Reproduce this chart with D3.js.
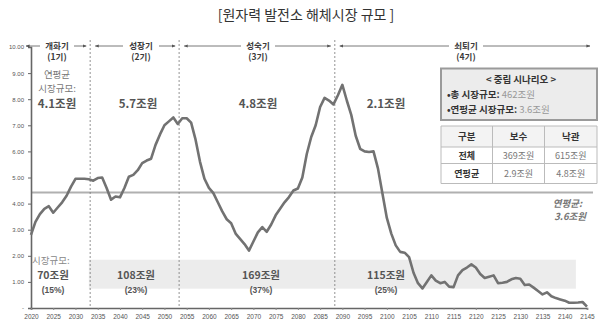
<!DOCTYPE html>
<html><head><meta charset="utf-8">
<script src="https://cdn.jsdelivr.net/npm/d3@7"></script>
<style>
body{margin:0;background:#fff;}
svg{display:block;}
text{font-family:"Liberation Sans","Noto Sans CJK KR",sans-serif;}
.kr{font-family:"Noto Sans CJK KR","Liberation Sans",sans-serif;}
</style></head>
<body>
<script>
const title = "[원자력 발전소 해체시장 규모 ]";
const years = d3.range(2020, 2146);
const values = [
 2.8,3.3,3.6,3.8,3.9,3.65,3.85,4.05,4.3,4.65,
 4.95,4.95,4.95,4.93,4.88,4.98,5.0,4.6,4.15,4.27,
 4.24,4.6,5.03,5.1,5.28,5.55,5.65,5.72,6.25,6.65,
 7.0,7.15,7.3,7.05,7.27,7.27,7.1,6.45,5.6,4.95,
 4.6,4.4,4.05,3.7,3.4,3.25,2.85,2.65,2.45,2.2,
 2.55,2.9,3.1,2.92,3.2,3.55,3.8,4.05,4.25,4.5,
 4.58,5.0,5.9,6.55,7.0,7.7,8.05,7.95,7.8,8.15,
 8.55,7.95,7.4,6.6,6.1,6.0,5.98,6.0,5.35,4.4,
 3.45,2.85,2.4,2.15,2.12,1.95,1.35,0.95,0.75,1.0,
 1.25,1.05,0.95,1.0,0.82,0.8,1.25,1.45,1.55,1.67,
 1.55,1.3,1.15,1.2,1.25,0.95,0.97,1.0,1.1,1.15,
 1.12,0.88,0.9,0.78,0.65,0.52,0.6,0.45,0.38,0.33,
 0.28,0.2,0.2,0.21,0.23,0.05
];
const yTicks = [0,1,2,3,4,5,6,7,8,9,10];
const yTickLabels = ["-","1.00","2.00","3.00","4.00","5.00","6.00","7.00","8.00","9.00","10.00"];
const xTicks = d3.range(2020, 2146, 5);
const averageLine = 4.43;
const periodBounds = [2020, 2033.3, 2053.3, 2088.3, 2145];
const periodNames = ["개화기","성장기","성숙기","쇠퇴기"];
const periodSubs = ["(1기)","(2기)","(3기)","(4기)"];
const annualAvg = ["4.1조원","5.7조원","4.8조원","2.1조원"];
const marketSize = ["70조원","108조원","169조원","115조원"];
const marketShare = ["(15%)","(23%)","(37%)","(25%)"];
const bandRange = [0.74, 1.85];
const bandYears = [2033, 2142.5];
const scenarioTitle = "< 중립 시나리오 >";
const scenarioRows = [["•총 시장규모: ","462조원"],["•연평균 시장규모: ","3.6조원"]];
const tableHeader = ["구분","보수","낙관"];
const tableRows = [["전체","369조원","615조원"],["연평균","2.9조원","4.8조원"]];

const W = 616, H = 329;
const svg = d3.select("body").append("svg").attr("width", W).attr("height", H);
const x = d3.scaleLinear().domain([2020, 2145]).range([31, 587]);
const y = d3.scaleLinear().domain([0, 10]).range([308, 47]);

// title
svg.append("text").attr("class","kr").attr("x", 306).attr("y", 20).attr("text-anchor","middle")
  .attr("font-size", 14).attr("fill","#333").text(title);

// band
svg.append("rect").attr("x", x(bandYears[0])).attr("width", x(bandYears[1]) - x(bandYears[0]))
  .attr("y", y(bandRange[1])).attr("height", y(bandRange[0]) - y(bandRange[1])).attr("fill", "#ececec");

// average line
svg.append("line").attr("x1", x(2020)).attr("x2", 593).attr("y1", y(averageLine)).attr("y2", y(averageLine))
  .attr("stroke", "#b0b0b0").attr("stroke-width", 2);

// dashed period lines
periodBounds.slice(1, 4).forEach(b => {
  svg.append("line").attr("x1", x(b)).attr("x2", x(b)).attr("y1", 40).attr("y2", y(0))
    .attr("stroke", "#777").attr("stroke-width", 0.8).attr("stroke-dasharray", "2,2");
});

// axes
const yAxis = d3.axisLeft(y).tickValues(yTicks).tickFormat((d,i) => yTickLabels[i]).tickSize(3).tickPadding(4);
const gy = svg.append("g").attr("transform", `translate(${x(2020)},0)`).call(yAxis);
gy.selectAll("text").attr("font-size", 6).attr("fill", "#555");
gy.select(".domain").attr("stroke", "#666").attr("stroke-width", 1.6);
gy.selectAll(".tick line").attr("stroke", "#666");

const xAxis = d3.axisBottom(x).tickValues(xTicks).tickFormat(d3.format("d")).tickSize(2).tickPadding(4);
const gx = svg.append("g").attr("transform", `translate(0,${y(0)})`).call(xAxis);
gx.selectAll("text").attr("font-size", 6.5).attr("fill", "#555");
gx.select(".domain").attr("stroke", "#666").attr("stroke-width", 1.6);
gx.selectAll(".tick line").attr("stroke", "#888");

// line
const line = d3.line().x((d,i) => x(years[i])).y(d => y(d));
svg.append("path").datum(values).attr("d", line).attr("fill","none")
  .attr("stroke", "#727272").attr("stroke-width", 2.6).attr("stroke-linejoin","round");

// arrow marker
const defs = svg.append("defs");
defs.append("marker").attr("id","ah").attr("viewBox","0 0 10 10").attr("refX",9).attr("refY",5)
  .attr("markerWidth",5).attr("markerHeight",5).attr("orient","auto-start-reverse")
  .append("path").attr("d","M0,1 L10,5 L0,9 Z").attr("fill","#555");

// period headers
const labelCenters = [57, 141, 258, 466];
const labelHalf = [17, 18, 17, 17];
periodNames.forEach((n, i) => {
  const x0 = i === 0 ? 26 : x(periodBounds[i]) + 5;
  const x1 = i === 3 ? 590 : x(periodBounds[i+1]) - 4;
  const c = labelCenters[i];
  svg.append("text").attr("class","kr").attr("x", c).attr("y", 49).attr("text-anchor","middle")
    .attr("font-size", 8.5).attr("font-weight","bold").attr("fill","#3a3a3a").text(n);
  svg.append("text").attr("class","kr").attr("x", c).attr("y", 60).attr("text-anchor","middle")
    .attr("font-size", 8.5).attr("font-weight","bold").attr("fill","#3a3a3a").text(periodSubs[i]);
  svg.append("line").attr("x1", c - labelHalf[i]).attr("x2", x0).attr("y1", 46).attr("y2", 46)
    .attr("stroke","#555").attr("stroke-width",0.8).attr("marker-end","url(#ah)");
  svg.append("line").attr("x1", c + labelHalf[i]).attr("x2", x1).attr("y1", 46).attr("y2", 46)
    .attr("stroke","#555").attr("stroke-width",0.8).attr("marker-end","url(#ah)");
});

// annual avg annotations
const annX = [57, 138, 258, 386];
svg.append("text").attr("class","kr").attr("x", 57).attr("y", 77.5).attr("text-anchor","middle")
  .attr("font-size", 9.5).attr("fill","#777").text("연평균");
svg.append("text").attr("class","kr").attr("x", 57).attr("y", 91.5).attr("text-anchor","middle")
  .attr("font-size", 9.5).attr("fill","#777").text("시장규모:");
annualAvg.forEach((t, i) => {
  svg.append("text").attr("class","kr").attr("x", annX[i]).attr("y", 108).attr("text-anchor","middle")
    .attr("font-size", 11.5).attr("font-weight","bold").attr("fill","#555").text(t);
});

// market size annotations
svg.append("text").attr("class","kr").attr("x", 32).attr("y", 263.5)
  .attr("font-size", 9.5).attr("fill","#888").text("시장규모:");
const msX = [53, 136, 261, 386];
marketSize.forEach((t, i) => {
  svg.append("text").attr("class","kr").attr("x", msX[i]).attr("y", 279).attr("text-anchor","middle")
    .attr("font-size", 10.5).attr("font-weight","bold").attr("fill","#555").text(t);
  svg.append("text").attr("x", msX[i]).attr("y", 292.5).attr("text-anchor","middle")
    .attr("font-size", 8.5).attr("font-weight","bold").attr("fill","#555").text(marketShare[i]);
});

// average label
svg.append("text").attr("class","kr").attr("x", 582).attr("y", 207).attr("text-anchor","end")
  .attr("font-size", 9.5).attr("font-style","italic").attr("font-weight","bold").attr("fill","#777").text("연평균:");
svg.append("text").attr("class","kr").attr("x", 586).attr("y", 220).attr("text-anchor","end")
  .attr("font-size", 9.5).attr("font-style","italic").attr("font-weight","bold").attr("fill","#777").text("3.6조원");

// scenario box
svg.append("rect").attr("x", 441).attr("y", 68.5).attr("width", 156).attr("height", 51.5)
  .attr("fill", "#ececec").attr("stroke", "#9a9a9a").attr("stroke-width", 2);
svg.append("text").attr("class","kr").attr("x", 521).attr("y", 83).attr("text-anchor","middle")
  .attr("font-size", 9.5).attr("font-weight","bold").attr("fill","#333").text(scenarioTitle);
scenarioRows.forEach((r, i) => {
  const t = svg.append("text").attr("class","kr").attr("x", 447).attr("y", 98 + i*15).attr("font-size", 9.5);
  t.append("tspan").attr("font-weight","bold").attr("fill","#333").text(r[0]);
  t.append("tspan").attr("fill","#999").text(r[1]);
});

// table
const colX = [441, 492.5, 544.5, 597];
const rowY = [126, 147, 163.5, 183.5];
svg.append("rect").attr("x", colX[0]).attr("y", rowY[0]).attr("width", colX[3]-colX[0]).attr("height", rowY[1]-rowY[0])
  .attr("fill", "#f3f3f3");
[tableHeader, ...tableRows].forEach((row, ri) => {
  row.forEach((cell, ci) => {
    const bold = ri === 0 || ci === 0;
    svg.append("text").attr("class","kr").attr("x", (colX[ci]+colX[ci+1])/2).attr("y", (rowY[ri]+rowY[ri+1])/2 + 3.5)
      .attr("text-anchor","middle").attr("font-size", ri === 0 ? 9.5 : 9)
      .attr("font-weight", bold ? "bold" : "normal").attr("fill", bold ? "#333" : "#777").text(cell);
  });
});
rowY.forEach(yy => svg.append("line").attr("x1", colX[0]).attr("x2", colX[3]).attr("y1", yy).attr("y2", yy)
  .attr("stroke", "#bbb").attr("stroke-width", 1));
colX.forEach(xx => svg.append("line").attr("x1", xx).attr("x2", xx).attr("y1", rowY[0]).attr("y2", rowY[3])
  .attr("stroke", "#bbb").attr("stroke-width", 1));
</script>
</body></html>
